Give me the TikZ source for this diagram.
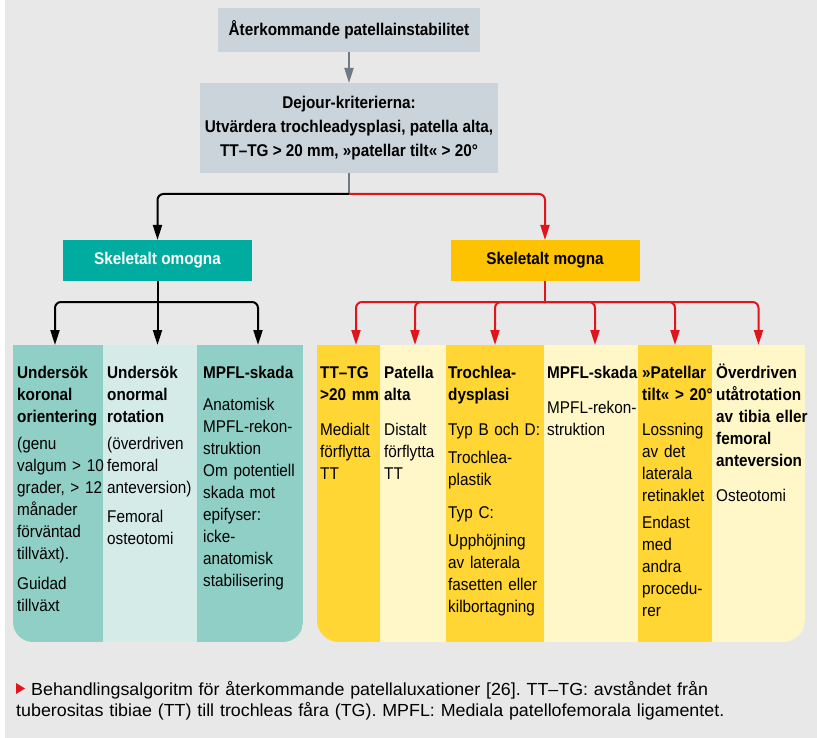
\documentclass[tikz,border=0pt]{standalone}
\usepackage{fontspec}
\setmainfont[FakeStretch=0.9]{Liberation Sans}
\newfontfamily\capfont[FakeStretch=1.02]{Liberation Sans}
\usetikzlibrary{arrows.meta}

\definecolor{bggray}{HTML}{E8E8E8}
\definecolor{boxgray}{HTML}{CBD4DB}
\definecolor{arrowgray}{HTML}{6E7A84}
\definecolor{tealbox}{HTML}{00ACA0}
\definecolor{tealdark}{HTML}{8FCFC6}
\definecolor{teallight}{HTML}{D5EBE8}
\definecolor{yellbox}{HTML}{FDC300}
\definecolor{yelldark}{HTML}{FFD633}
\definecolor{yelllight}{HTML}{FFF7C8}
\definecolor{redline}{HTML}{E1141B}

\tikzset{
  headbox/.style={fill=boxgray, inner sep=0pt, outer sep=0pt, align=center, font=\fontsize{17}{24}\selectfont\bfseries},
  groupbox/.style={inner sep=0pt, outer sep=0pt, minimum width=189pt, minimum height=41pt, font=\fontsize{17}{22}\selectfont\bfseries},
  colbox/.style={anchor=north west, inner sep=0pt, outer sep=0pt, minimum height=297pt},
  coltext/.style={anchor=north west, inner sep=0pt, text width=100pt, align=left, font=\fontsize{17}{22}\selectfont},
  grayarrow/.style={draw=arrowgray, line width=2pt, -{Triangle[length=15pt,width=9pt]}},
  graystem/.style={draw=arrowgray, line width=2pt},
  blkarrow/.style={draw=black, line width=2pt, rounded corners=6pt, -{Triangle[length=15pt,width=9pt]}},
  blkstem/.style={draw=black, line width=2pt},
  redarrow/.style={draw=redline, line width=2pt, rounded corners=6pt, -{Triangle[length=15pt,width=9pt]}},
  redstem/.style={draw=redline, line width=2pt}
}

\begin{document}
\begin{tikzpicture}[x=1pt,y=-1pt]
\useasboundingbox (0,0) rectangle (817,738);
\fill[white] (0,0) rectangle (817,738);
\fill[bggray] (5,0) rectangle (817,738);

\node[headbox, minimum width=262pt, minimum height=44pt] (top) at (349,30) {Återkommande patellainstabilitet};
\node[headbox, minimum width=298pt, minimum height=90pt] (dej) at (349,128) {Dejour-kriterierna:\\Utvärdera trochleadysplasi, patella alta,\\TT–TG > 20 mm, »patellar tilt« > 20°};
\node[groupbox, fill=tealbox, text=white] (omo) at (157.5,260.5) {Skeletalt omogna};
\node[groupbox, fill=yellbox] (mog) at (545,260.5) {Skeletalt mogna};

% vänster panel
\begin{scope}
\clip[rounded corners=20pt] (13,345) rectangle (303,642) [sharp corners] (13,345) rectangle (303,420);
\node[colbox, fill=tealdark, minimum width=90pt] (l1) at (13,345) {};
\node[colbox, fill=teallight, minimum width=94pt] (l2) at (103,345) {};
\node[colbox, fill=tealdark, minimum width=106pt] (l3) at (197,345) {};
\end{scope}

% höger panel
\begin{scope}
\clip[rounded corners=22pt] (317,345) rectangle (805,642) [sharp corners] (317,345) rectangle (805,420);
\node[colbox, fill=yelldark, minimum width=63pt] (r1) at (317,345) {};
\node[colbox, fill=yelllight, minimum width=66pt] (r2) at (380,345) {};
\node[colbox, fill=yelldark, minimum width=98pt] (r3) at (446,345) {};
\node[colbox, fill=yelllight, minimum width=94pt] (r4) at (544,345) {};
\node[colbox, fill=yelldark, minimum width=74pt] (r5) at (638,345) {};
\node[colbox, fill=yelllight, minimum width=93pt] (r6) at (712,345) {};
\end{scope}

\node[coltext] (l1t) at ([xshift=4pt,yshift=-17.5pt]l1.north west) {\strut\textbf{Undersök\\koronal\\orientering}\\[5pt](genu\\valgum > 10\\grader, > 12\\månader\\förväntad\\tillväxt).\\[8pt]Guidad\\tillväxt};
\node[coltext] (l2t) at ([xshift=4pt,yshift=-17.5pt]l2.north west) {\strut\textbf{Undersök\\onormal\\rotation}\\[5pt](överdriven\\femoral\\anteversion)\\[7pt]Femoral\\osteotomi};
\node[coltext] (l3t) at ([xshift=6pt,yshift=-17.5pt]l3.north west) {\strut\textbf{MPFL-skada}\\[10pt]Anatomisk\\MPFL-rekon-\\struktion\\Om potentiell\\skada mot\\epifyser:\\icke-\\anatomisk\\stabilisering};

\node[coltext] (r1t) at ([xshift=3pt,yshift=-17.5pt]r1.north west) {\strut\textbf{TT–TG\\>20 mm}\\[13pt]Medialt\\förflytta\\TT};
\node[coltext] (r2t) at ([xshift=4pt,yshift=-17.5pt]r2.north west) {\strut\textbf{Patella\\alta}\\[13pt]Distalt\\förflytta\\TT};
\node[coltext] (r3t) at ([xshift=2pt,yshift=-17.5pt]r3.north west) {\strut\textbf{Trochlea-\\dysplasi}\\[13pt]Typ B och D:\\[6pt]Trochlea-\\plastik\\[11pt]Typ C:\\[6pt]Upphöjning\\av laterala\\fasetten eller\\kilbortagning};
\node[coltext] (r4t) at ([xshift=3pt,yshift=-17.5pt]r4.north west) {\strut\textbf{MPFL-skada}\\[13pt]MPFL-rekon-\\struktion};
\node[coltext] (r5t) at ([xshift=4pt,yshift=-17.5pt]r5.north west) {\strut\textbf{»Patellar\\tilt« > 20°}\\[13pt]Lossning\\av det\\laterala\\retinaklet\\[5pt]Endast\\med\\andra\\procedu-\\rer};
\node[coltext] (r6t) at ([xshift=4pt,yshift=-17.5pt]r6.north west) {\strut\textbf{Överdriven\\utåtrotation\\av tibia eller\\femoral\\anteversion}\\[13pt]Osteotomi};

% pilar
\coordinate (split) at (349,194);
\path (omo.south) ++(0,21) coordinate (lsplit);
\path (mog.south) ++(0,21) coordinate (rsplit);
\draw[grayarrow] (top.south) -- (dej.north);
\draw[graystem] (dej.south) -- (split);
\draw[blkarrow] (split) -| (omo.north);
\draw[redarrow] (split) -| (mog.north);

\draw[blkstem] (omo.south) -- (lsplit);
\draw[blkarrow] (lsplit) -| ([xshift=-3pt]l1.north);
\draw[blkarrow] (lsplit) -- (lsplit |- l2.north);
\draw[blkarrow] (lsplit) -| ([xshift=8pt]l3.north);

\draw[redstem] (mog.south) -- (rsplit);
\draw[redarrow] (rsplit) -| ([xshift=7.5pt]r1.north);
\draw[redarrow] (rsplit) -| ([xshift=2pt]r2.north);
\draw[redarrow] (rsplit) -| (r3.north);
\draw[redarrow] (rsplit) -| ([xshift=4pt]r4.north);
\draw[redarrow] (rsplit) -| (r5.north);
\draw[redarrow] (rsplit) -| (r6.north);

% bildtext
\node[anchor=north west, inner sep=0pt, text width=790pt, align=left, font=\capfont\fontsize{17.5}{20}\selectfont\frenchspacing] (cap) at (16,681) {\strut\hspace*{15pt}Behandlingsalgoritm för återkommande patellaluxationer [26]. TT–TG: avståndet från\\tuberositas tibiae (TT) till trochleas fåra (TG). MPFL: Mediala patellofemorala ligamentet.};
\fill[redline] (16,683) -- (25,688.5) -- (16,694) -- cycle;
\end{tikzpicture}
\end{document}
